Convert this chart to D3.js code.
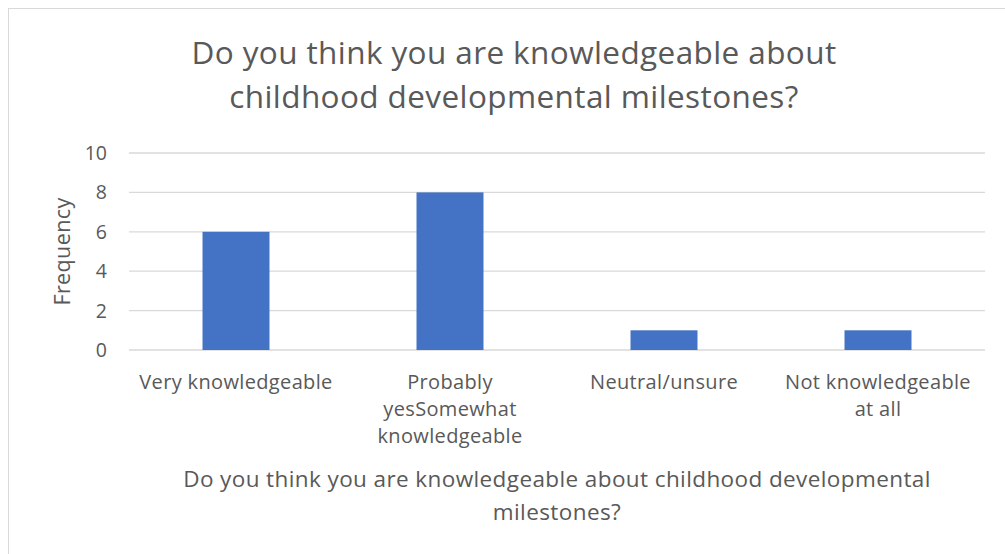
<!DOCTYPE html>
<html>
<head>
<meta charset="utf-8">
<script src="https://cdn.jsdelivr.net/npm/d3@7"></script>
<style>
  html, body { margin: 0; padding: 0; background: #fff; }
  svg { display: block; font-family: "Open Sans", Lato, sans-serif; }
</style>
</head>
<body>
<svg id="chart" width="1005" height="554"></svg>
<script>
const categories = [
  ["Very knowledgeable"],
  ["Probably", "yesSomewhat", "knowledgeable"],
  ["Neutral/unsure"],
  ["Not knowledgeable", "at all"]
];
const frequencies = [6, 8, 1, 1];
const yTicks = [0, 2, 4, 6, 8, 10];
const titleLines = ["Do you think you are knowledgeable about", "childhood developmental milestones?"];
const xTitleLines = ["Do you think you are knowledgeable about childhood developmental", "milestones?"];
const yTitle = "Frequency";

const svg = d3.select("#chart");
const textColor = "#595959";

// outer chart frame (runs off the right/bottom edge)
svg.append("rect")
  .attr("x", 8.5).attr("y", 8.5)
  .attr("width", 1005).attr("height", 560)
  .attr("fill", "#fff").attr("stroke", "#d9d9d9").attr("stroke-width", 1);

const plot = { left: 129, right: 985, top: 153, bottom: 350 };

const x = d3.scaleBand()
  .domain(d3.range(categories.length))
  .range([plot.left, plot.right])
  .paddingInner(0.687)
  .paddingOuter(0.3435);

const y = d3.scaleLinear().domain([0, 10]).range([plot.bottom, plot.top]);

// gridlines
svg.append("g")
  .selectAll("line")
  .data(yTicks)
  .join("line")
  .attr("x1", plot.left).attr("x2", plot.right)
  .attr("y1", d => y(d)).attr("y2", d => y(d))
  .attr("stroke", "#d9d9d9").attr("stroke-width", 1.3);

// y tick labels
svg.append("g")
  .selectAll("text")
  .data(yTicks)
  .join("text")
  .attr("x", 107).attr("y", d => y(d))
  .attr("dy", "0.36em")
  .attr("text-anchor", "end")
  .attr("fill", textColor)
  .attr("font-size", 19.5)
  .text(d => d);

// bars
svg.append("g")
  .selectAll("rect")
  .data(frequencies)
  .join("rect")
  .attr("x", (d, i) => x(i))
  .attr("width", x.bandwidth())
  .attr("y", d => y(d))
  .attr("height", d => y(0) - y(d))
  .attr("fill", "#4472c4");

// category labels
const catG = svg.append("g");
categories.forEach((lines, i) => {
  const cx = x(i) + x.bandwidth() / 2;
  const t = catG.append("text")
    .attr("text-anchor", "middle")
    .attr("fill", textColor)
    .attr("font-size", 20)
    .attr("letter-spacing", 0.35);
  lines.forEach((ln, j) => {
    t.append("tspan").attr("x", cx).attr("y", 389 + j * 26.8).text(ln);
  });
});

// chart title
const title = svg.append("text")
  .attr("text-anchor", "middle")
  .attr("fill", textColor)
  .attr("font-size", 31.5)
  .attr("letter-spacing", 0.4);
titleLines.forEach((ln, j) => {
  title.append("tspan").attr("x", 514).attr("y", 64 + j * 44).text(ln);
});

// x axis title
const xt = svg.append("text")
  .attr("text-anchor", "middle")
  .attr("fill", textColor)
  .attr("font-size", 22.5)
  .attr("letter-spacing", 0.4);
xTitleLines.forEach((ln, j) => {
  xt.append("tspan").attr("x", (plot.left + plot.right) / 2).attr("y", 487 + j * 33).text(ln);
});

// y axis title
svg.append("text")
  .attr("transform", `translate(70, ${(plot.top + plot.bottom) / 2}) rotate(-90)`)
  .attr("text-anchor", "middle")
  .attr("fill", textColor)
  .attr("font-size", 21.5)
  .attr("letter-spacing", 0.4)
  .text(yTitle);
</script>
</body>
</html>
